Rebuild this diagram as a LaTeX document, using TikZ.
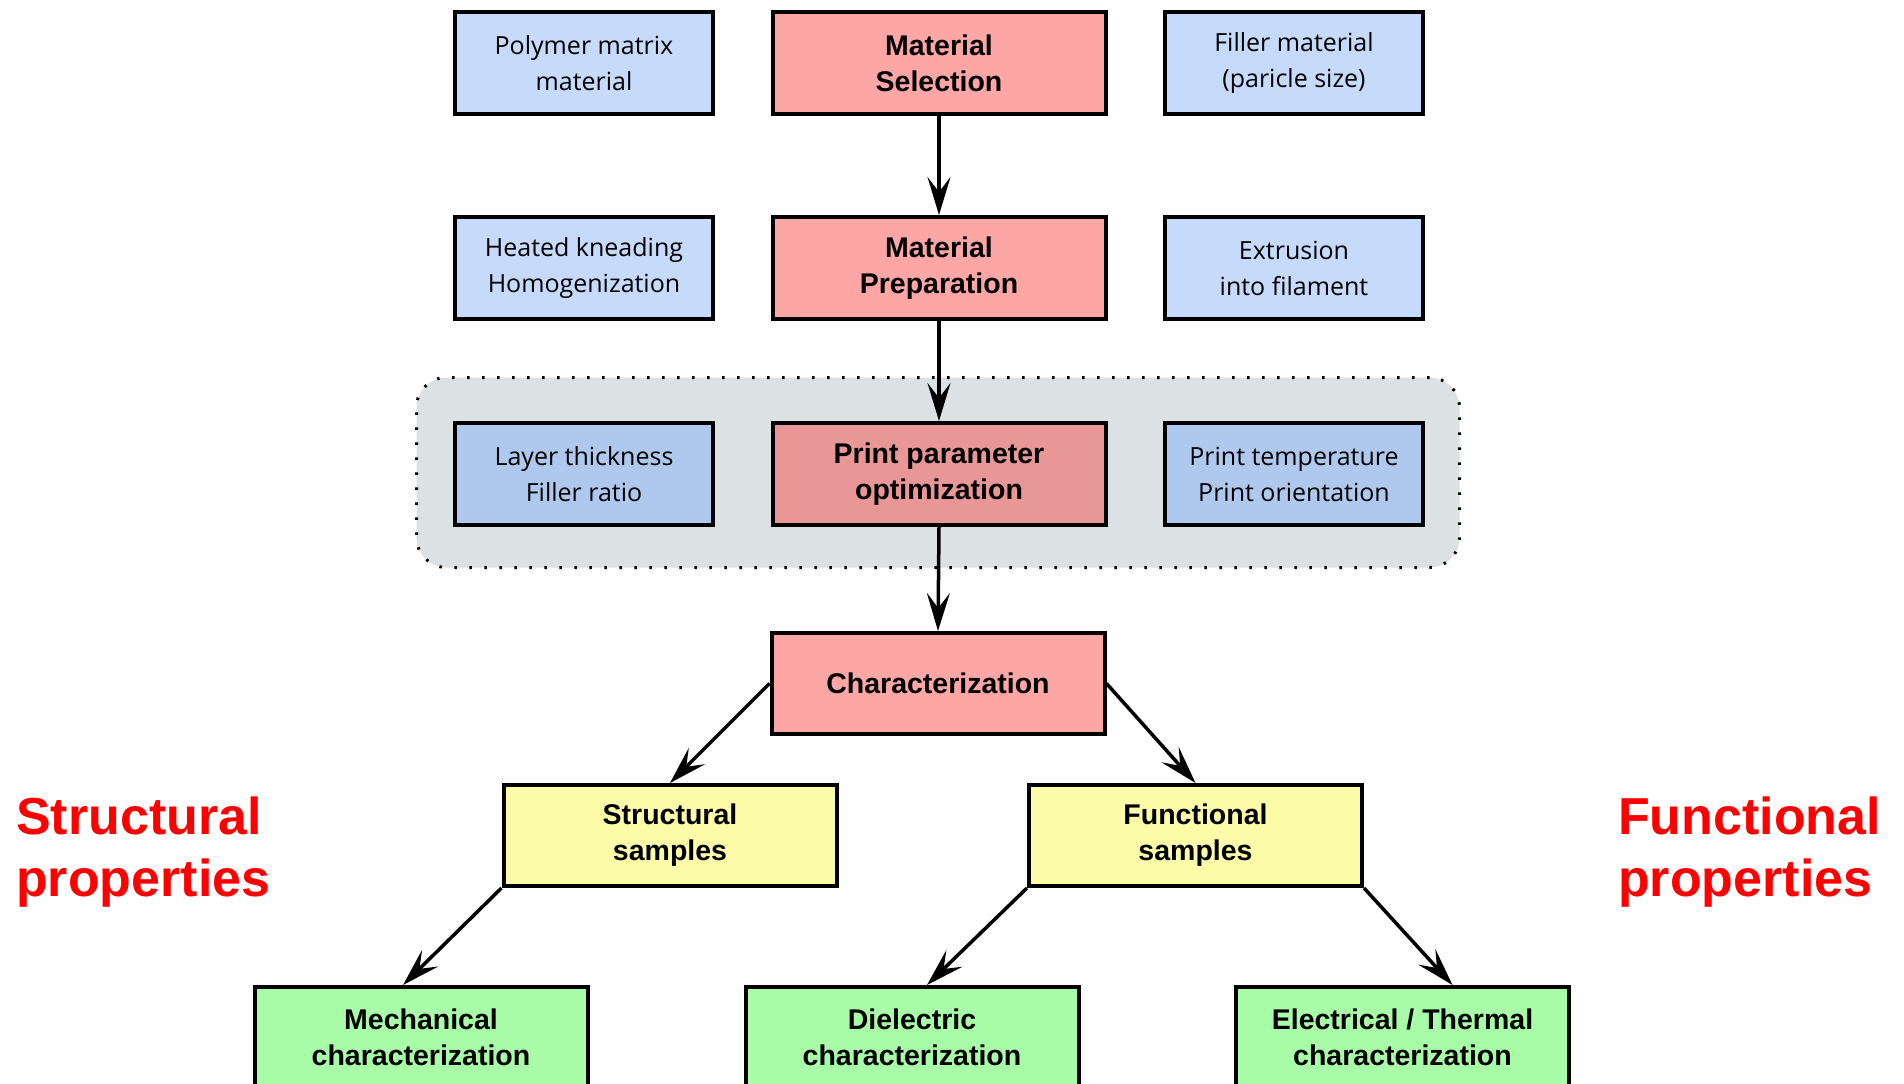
\documentclass[tikz,border=0pt]{standalone}
\usepackage{fontspec}
\newfontfamily\paramfont{Open Sans}
\newfontfamily\stagefont{Liberation Sans}
\usetikzlibrary{arrows.meta}

\definecolor{paramblue}{HTML}{C6DAFC}
\definecolor{paramblueopt}{HTML}{AEC8EE}
\definecolor{stagered}{HTML}{FDA6A6}
\definecolor{stageredopt}{HTML}{E89696}
\definecolor{sampleyellow}{HTML}{FCFCA8}
\definecolor{testgreen}{HTML}{A8FCA8}
\definecolor{optgrey}{HTML}{DCE1E4}
\definecolor{propred}{HTML}{FF0000}

\begin{document}
\begin{tikzpicture}[x=1pt, y=-1pt,
    box/.style={draw=black, line width=4pt, align=center, inner sep=0pt},
    paramBox/.style={box, fill=paramblue, minimum width=258pt, minimum height=102pt,
        font={\paramfont\fontsize{25}{36}\selectfont}},
    stageBox/.style={box, fill=stagered, minimum width=333pt, minimum height=102pt,
        font={\stagefont\bfseries\fontsize{28.5}{36}\selectfont}},
    resultBox/.style={box, minimum width=333pt, minimum height=101pt,
        font={\stagefont\bfseries\fontsize{28.5}{36}\selectfont}},
    propLabel/.style={text=propred, align=left, inner sep=0pt, anchor=west,
        font={\stagefont\bfseries\fontsize{52}{62}\selectfont}},
    flow/.style={-{Stealth[length=38pt,width=23pt,inset=15pt]}, line width=3.5pt}]

    \useasboundingbox (0,0) rectangle (1904,1084);
    \clip (0,0) rectangle (1904,1084);

    % optimization group (behind row 3)
    \node[draw=black, fill=optgrey, line width=3pt, rounded corners=30pt,
          dash pattern=on 2.5pt off 12.5pt, minimum width=1043pt, minimum height=190pt]
          (optgroup) at (938,472.5) {};

    % row 1: selection
    \node[paramBox] (polymer) at (584,63) {Polymer matrix\\material};
    \node[stageBox] (select)  at (939,63) {Material\\Selection};
    \node[paramBox] (filler)  at (1294,63) {Filler material\\(paricle size)};

    % row 2: preparation
    \node[paramBox] (kneading) at (584,268) {Heated kneading\\Homogenization};
    \node[stageBox] (prepare)  at (939,268) {Material\\Preparation};
    \node[paramBox] (extrude)  at (1294,268) {Extrusion\\into filament};

    % row 3: print parameters
    \node[paramBox, fill=paramblueopt] (layer) at (584,474) {Layer thickness\\Filler ratio};
    \node[stageBox, fill=stageredopt] (printopt) at (939,474) {Print parameter\\optimization};
    \node[paramBox, fill=paramblueopt] (printtemp) at (1294,474) {Print temperature\\Print orientation};

    % characterization tree
    \node[stageBox, minimum height=101pt] (charact) at (938,683.5) {Characterization};
    \node[resultBox, fill=sampleyellow] (structural) at (670,835.5) {Structural\\samples};
    \node[resultBox, fill=sampleyellow] (functional) at (1195.5,835.5) {Functional\\samples};
    \node[resultBox, fill=testgreen] (mechanical) at (421,1037.5) {Mechanical\\characterization};
    \node[resultBox, fill=testgreen] (dielectric) at (912,1037.5) {Dielectric\\characterization};
    \node[resultBox, fill=testgreen] (electrical) at (1402.5,1037.5) {Electrical / Thermal\\characterization};

    % side labels
    \node[propLabel] (structprop) at (16,852.5) {Structural\\properties};
    \node[propLabel] (funcprop) at (1618,852.5) {Functional\\properties};

    % arrows
    \draw[flow] (select) -- (prepare);
    \draw[flow] (prepare) -- (printopt);
    \draw[flow] (printopt.south) -- (charact.north);
    \draw[flow] (charact.west) -- (structural.north);
    \draw[flow] (charact.east) -- (functional.north);
    \draw[flow] (structural.south west) -- ([xshift=-18pt]mechanical.north);
    \draw[flow] (functional.south west) -- ([xshift=15pt]dielectric.north);
    \draw[flow] (functional.south east) -- ([xshift=50pt]electrical.north);

\end{tikzpicture}
\end{document}
